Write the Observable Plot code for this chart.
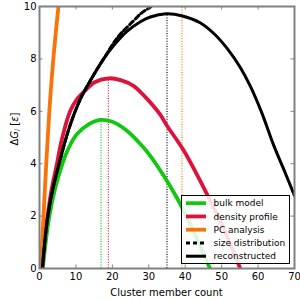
<!DOCTYPE html>
<html>
<head>
<meta charset="utf-8">
<script src="https://cdn.jsdelivr.net/npm/d3@7"></script>
<script src="https://cdn.jsdelivr.net/npm/@observablehq/plot@0.6"></script>
<style>
  html, body { margin: 0; padding: 0; background: white; }
  #chart { width: 300px; height: 300px; }
</style>
</head>
<body>
<div id="chart"></div>
<script>
const xTicks = [0, 10, 20, 30, 40, 50, 60, 70];
const yTicks = [0, 2, 4, 6, 8, 10];

const bulkX = [0.9, 1.7, 2.7, 4.2, 6.3, 8.0, 10.3, 13.5, 16.7, 20.0, 24.0, 27.7, 30.4, 34.5, 37.7, 39.6, 43.0, 46.8];
const bulkY = [0, 1.0, 2.0, 3.0, 4.0, 4.6, 5.13, 5.5, 5.67, 5.6, 5.26, 4.75, 4.3, 3.45, 2.7, 2.2, 1.2, 0];

const densityX = [0.8, 1.5, 2.2, 3.3, 4.8, 6.0, 8.4, 10.5, 12.6, 15.0, 19.0, 22.5, 25.8, 29.0, 33.0, 35.0, 39.6, 46.4, 50.0, 55.1];
const densityY = [0, 1.2, 2.0, 3.0, 4.0, 4.85, 6.0, 6.5, 6.8, 7.1, 7.26, 7.18, 6.97, 6.55, 5.9, 5.45, 4.5, 2.72, 1.7, 0];

const pcX = [0.4, 1.1, 1.85, 2.7, 3.8, 5.2, 5.6];
const pcY = [0, 2, 4, 6, 8, 10, 10.5];

const sizeX = [0.8, 1.5, 2.3, 3.6, 5.4, 8.0, 11.2, 13.9, 17.6, 20.3, 22.2, 25.8, 28.0, 30.4, 31.5];
const sizeY = [0, 1.1, 2.0, 3.0, 4.0, 5.3, 6.46, 7.16, 8.0, 8.6, 8.95, 9.45, 9.75, 9.98, 10.15];

const reconX = [0.8, 1.5, 2.3, 3.6, 5.4, 8.0, 11.2, 13.9, 17.6, 20.3, 24.0, 27.7, 30.4, 34.8, 39.0, 44.1, 48.0, 51.5, 55.0, 57.9, 61.0, 64.3, 67.0, 70.0];
const reconY = [0, 1.1, 2.0, 3.0, 4.0, 5.3, 6.46, 7.16, 8.0, 8.5, 9.05, 9.42, 9.6, 9.72, 9.65, 9.38, 8.95, 8.4, 7.7, 6.95, 5.95, 4.7, 3.8, 2.78];

const peakX = [16.9, 18.9, 35.0, 39.1];
const peakY = [5.7, 7.26, 9.7, 10];
const peakColor = ["#11c811", "#dc143c", "#000000", "#f97306"];

const legendLabels = ["bulk model", "density profile", "PC analysis", "size distribution", "reconstructed"];
const legendColors = ["#11c811", "#dc143c", "#f97306", "#000000", "#000000"];
const legendWidths = [3.8, 3.8, 3.8, 3, 3];
const legendDash = [null, null, null, "4,3", null];

const rows = (xs, ys) => xs.map((x, i) => ({x, y: ys[i]}));
const peaks = peakX.map((x, i) => ({x, y: peakY[i], c: peakColor[i]}));

const W = 300, H = 300, mL = 39, mR = 6, mT = 6, mB = 32;
const innerW = W - mL - mR, innerH = H - mT - mB;
const tickLen = 3.5;
const gray = "#808080";

const plot = Plot.plot({
  width: W, height: H,
  marginLeft: mL, marginRight: mR, marginTop: mT, marginBottom: mB,
  x: {domain: [0, 70]},
  y: {domain: [0, 10]},
  style: {fontFamily: "DejaVu Sans", fontSize: "10px", background: "white", color: "black"},
  marks: [
    Plot.ruleX(peaks, {x: "x", y1: 0, y2: "y", stroke: "c", strokeWidth: 1.2, strokeDasharray: "1,1.6"}),
    Plot.line(rows(bulkX, bulkY), {x: "x", y: "y", stroke: "#11c811", strokeWidth: 3.8, curve: "catmull-rom", clip: true}),
    Plot.line(rows(densityX, densityY), {x: "x", y: "y", stroke: "#dc143c", strokeWidth: 3.8, curve: "catmull-rom", clip: true}),
    Plot.line(rows(pcX, pcY), {x: "x", y: "y", stroke: "#f97306", strokeWidth: 3.8, curve: "catmull-rom", clip: true}),
    Plot.line(rows(sizeX, sizeY), {x: "x", y: "y", stroke: "black", strokeWidth: 3, strokeDasharray: "5,3", curve: "catmull-rom", clip: true}),
    Plot.line(rows(reconX, reconY), {x: "x", y: "y", stroke: "black", strokeWidth: 3, curve: "catmull-rom", clip: true}),
    Plot.tickX(xTicks, {x: d => d, insetTop: innerH - tickLen, stroke: gray, strokeWidth: 1}),
    Plot.tickX(xTicks, {x: d => d, insetBottom: innerH - tickLen, stroke: gray, strokeWidth: 1}),
    Plot.tickY(yTicks, {y: d => d, insetRight: innerW - tickLen, stroke: gray, strokeWidth: 1}),
    Plot.tickY(yTicks, {y: d => d, insetLeft: innerW - tickLen, stroke: gray, strokeWidth: 1}),
    Plot.axisX(xTicks, {tickSize: 0, tickPadding: 4, label: null, fontSize: 10}),
    Plot.axisY(yTicks, {tickSize: 0, tickPadding: 3, label: null, fontSize: 10}),
    Plot.frame({stroke: gray, strokeWidth: 2})
  ]
});

const svg = d3.select(plot);

// x label
svg.append("text")
  .attr("x", mL + innerW / 2).attr("y", 295.5)
  .attr("text-anchor", "middle")
  .attr("font-family", "DejaVu Sans").attr("font-size", 10)
  .attr("fill", "black")
  .text("Cluster member count");

// y label
const yl = svg.append("text")
  .attr("transform", "translate(17.5,129) rotate(-90)")
  .attr("text-anchor", "middle")
  .attr("font-family", "DejaVu Sans").attr("font-size", 10)
  .attr("fill", "black");
yl.append("tspan").text("Δ");
yl.append("tspan").attr("font-style", "italic").text("G");
yl.append("tspan").attr("font-style", "italic").attr("font-size", 7).attr("dy", 2).text("i");
yl.append("tspan").attr("dy", -2).text(" [");
yl.append("tspan").attr("font-style", "italic").text("ε");
yl.append("tspan").text("]");

// legend
const lg = svg.append("g").attr("text-anchor", "start");
lg.append("rect")
  .attr("x", 181.5).attr("y", 195.5).attr("width", 108).attr("height", 68)
  .attr("fill", "white").attr("fill-opacity", 0.85)
  .attr("stroke", "black").attr("stroke-width", 1);
legendLabels.forEach((lab, i) => {
  const cy = 203.2 + i * 13.25;
  const ln = lg.append("line")
    .attr("x1", 186).attr("x2", 206).attr("y1", cy).attr("y2", cy)
    .attr("stroke", legendColors[i]).attr("stroke-width", legendWidths[i]);
  if (legendDash[i]) ln.attr("stroke-dasharray", legendDash[i]);
  lg.append("text")
    .attr("x", 213.5).attr("y", cy).attr("dy", "0.35em")
    .attr("text-anchor", "start")
    .attr("font-family", "DejaVu Sans").attr("font-size", 9)
    .attr("fill", "black")
    .text(lab);
});

document.getElementById("chart").appendChild(plot);
</script>
</body>
</html>
